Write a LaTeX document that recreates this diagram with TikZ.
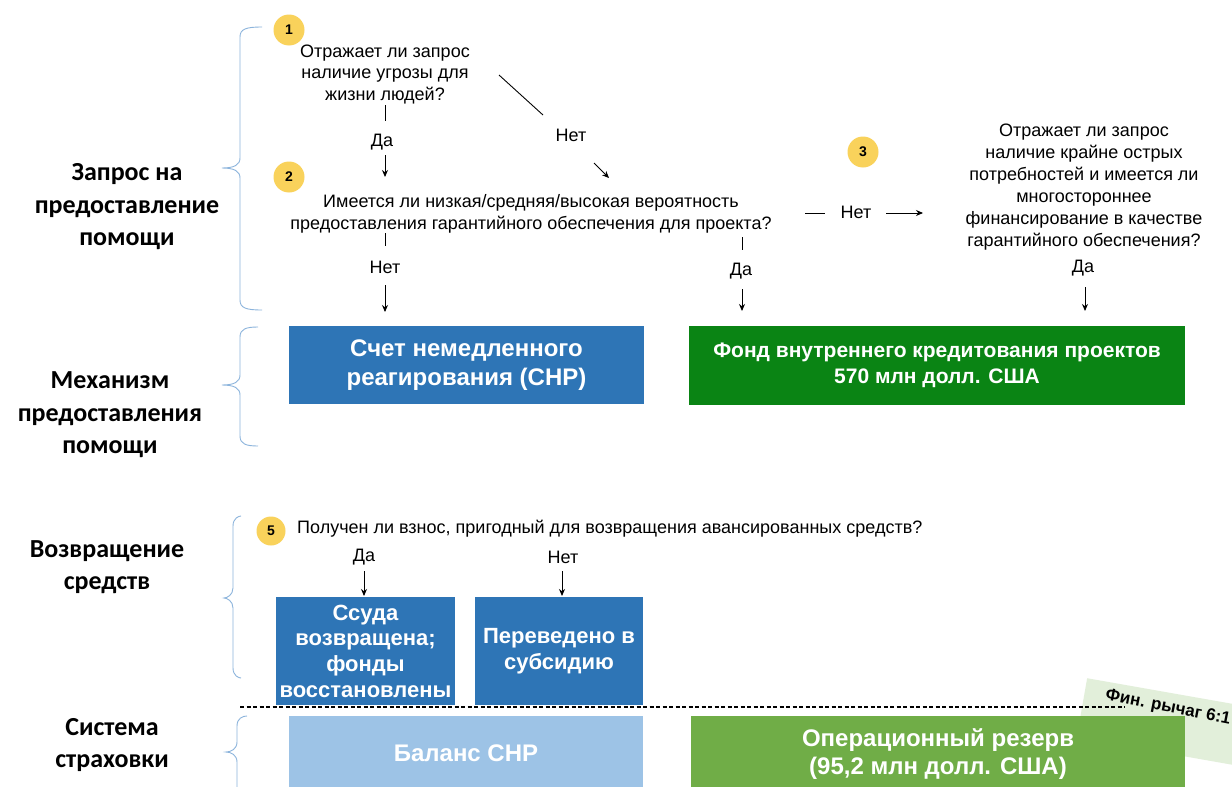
\documentclass[tikz,border=0pt]{standalone}
\usepackage{fontspec}
\setmainfont{Liberation Sans}
\newfontfamily\calfont{Carlito}
\usetikzlibrary{arrows.meta}
\definecolor{boxblue}{RGB}{46,117,182}
\definecolor{boxgreen}{RGB}{10,132,20}
\definecolor{lightblue}{RGB}{157,195,230}
\definecolor{lightgreen}{RGB}{112,173,71}
\definecolor{yel}{RGB}{249,210,91}
\definecolor{bracec}{RGB}{140,180,220}
\definecolor{palegreen}{RGB}{226,239,218}
\newcommand\Brace[6]{\draw[brace] (#1,#4) .. controls ({#2+6},#4) and (#2,{#4+2}) .. (#2,{#4+10}) -- (#2,{#5-10}) .. controls (#2,{#5-3}) and ({#2-6},#5) .. (#3,#5) .. controls ({#2-6},#5) and (#2,{#5+3}) .. (#2,{#5+10}) -- (#2,{#6-10}) .. controls (#2,{#6-2}) and ({#2+6},#6) .. (#1,#6);}
\begin{document}
\begin{tikzpicture}[x=1pt,y=-1pt,
 q/.style={font=\fontsize{18}{21.7}\selectfont, align=center, inner sep=0pt},
 yn/.style={font=\fontsize{18}{19}\selectfont, inner sep=0pt},
 sect/.style={font=\calfont\bfseries\fontsize{26}{32.5}\selectfont, align=center, inner sep=0pt},
 num/.style={circle, fill=yel, minimum size=31, inner sep=0pt, font=\bfseries\fontsize{14}{14}\selectfont},
 conn/.style={draw=black, line width=0.9pt},
 arr/.style={conn, -{Stealth[length=7pt,width=6pt]}},
 brace/.style={draw=bracec, line width=0.9pt},
 box/.style={fill=boxblue, text=white, font=\bfseries\fontsize{20}{27}\selectfont, align=center, inner sep=0pt},
]
\useasboundingbox (0,0) rectangle (1232,787);
\fill[white] (0,0) rectangle (1232,787);
% section labels
\node[sect] (s1) at (127,207) {Запрос на\\предоставление\\помощи};
\node[sect] (s2) at (110,415) {Механизм\\предоставления\\помощи};
\node[sect] (s3) at (107,567) {Возвращение\\средств};
\node[sect] (s4) at (112,745) {Система\\страховки};
% braces
\Brace{262}{240}{222}{27}{168}{310}
\Brace{258}{240}{222}{327}{385}{446}
\Brace{241}{233}{224}{516}{598}{678}
\Brace{247}{237}{226}{716}{752}{830}
% numbers
\node[num] (n1) at (289,30) {1};
\node[num] (n2) at (289,177) {2};
\node[num] (n3) at (863,152) {3};
\node[num, minimum size=29] (n5) at (271,531) {5};
% questions
\node[q] (q1) at (385,74.5) {Отражает ли запрос\\наличие угрозы для\\жизни людей?};
\node[q] (q2) at (531,214) {Имеется ли низкая/средняя/высокая вероятность\\предоставления гарантийного обеспечения для проекта?};
\node[q, font=\fontsize{18}{22}\selectfont] (q3) at (1084,187.5) {Отражает ли запрос\\наличие крайне острых\\потребностей и имеется ли\\многостороннее\\финансирование в качестве\\гарантийного обеспечения?};
\node[q, anchor=west] (q5) at (297,529) {Получен ли взнос, пригодный для возвращения авансированных средств?};
% yes/no labels
\node[yn] (da1) at (382,142) {Да};
\node[yn] (net1) at (571,135) {Нет};
\node[yn] (net2) at (385,267) {Нет};
\node[yn] (da2) at (741,271) {Да};
\node[yn] (net3) at (856,212) {Нет};
\node[yn] (da3) at (1083,268) {Да};
\node[yn] (da5) at (364,557) {Да};
\node[yn] (net5) at (563,557) {Нет};
% connector coordinates
\coordinate (t1a) at (385,105); \coordinate (t1b) at (385,121);
\coordinate (a1a) at (385,155); \coordinate (a1b) at (385,177);
\coordinate (t2a) at (499,75);  \coordinate (t2b) at (543,115);
\coordinate (a2a) at (594,163); \coordinate (a2b) at (609,178);
\coordinate (t3a) at (385,233); \coordinate (t3b) at (385,246);
\coordinate (a3a) at (385,285); \coordinate (a3b) at (385,312);
\coordinate (t4a) at (742,237); \coordinate (t4b) at (742,250);
\coordinate (a4a) at (742,289); \coordinate (a4b) at (742,311);
\coordinate (t5a) at (805,213); \coordinate (t5b) at (825,213);
\coordinate (a5a) at (886,213); \coordinate (a5b) at (923,213);
\coordinate (a6a) at (1085,287); \coordinate (a6b) at (1085,311);
\coordinate (a7a) at (364,571); \coordinate (a7b) at (364,596);
\coordinate (a8a) at (562,571); \coordinate (a8b) at (562,596);
\draw[conn] (t1a) -- (t1b); \draw[arr] (a1a) -- (a1b);
\draw[conn] (t2a) -- (t2b); \draw[arr] (a2a) -- (a2b);
\draw[conn] (t3a) -- (t3b); \draw[arr] (a3a) -- (a3b);
\draw[conn] (t4a) -- (t4b); \draw[arr] (a4a) -- (a4b);
\draw[conn] (t5a) -- (t5b); \draw[arr] (a5a) -- (a5b);
\draw[arr] (a6a) -- (a6b);
\draw[arr] (a7a) -- (a7b);
\draw[arr] (a8a) -- (a8b);
% boxes
\node[box, minimum width=355, minimum height=78, font=\bfseries\fontsize{24}{29}\selectfont] (cnr) at (466.5,365) {Счет немедленного\\реагирования (СНР)};
\node[box, fill=boxgreen, minimum width=496, minimum height=79, font=\bfseries\fontsize{21}{26}\selectfont] (fund) at (937,365.5) {Фонд внутреннего кредитования проектов\\570 млн долл. США};
\node[box, minimum width=179, minimum height=108, font=\bfseries\fontsize{22}{25.7}\selectfont] (ssuda) at (365.5,651) {Ссуда\\возвращена;\\фонды\\восстановлены};
\node[box, minimum width=168, minimum height=108, font=\bfseries\fontsize{22}{25.7}\selectfont] (perev) at (559,651) {Переведено в\\субсидию};
% leverage label background
\node[rotate=-10, fill=palegreen, anchor=north west, minimum width=210, minimum height=60, inner sep=0pt] (levbg) at (1087,678) {};
\node[box, fill=lightblue, minimum width=354, minimum height=74, font=\bfseries\fontsize{24}{28}\selectfont] (bal) at (466,753) {Баланс СНР};
\node[box, fill=lightgreen, minimum width=494, minimum height=76, font=\bfseries\fontsize{24}{28}\selectfont] (opres) at (938,754) {Операционный резерв\\(95,2 млн долл. США)};
\coordinate (dl1) at (240,707); \coordinate (dl2) at (1125,707);
\draw[black, line width=1.2pt, dash pattern=on 4pt off 2.5pt] (dl1) -- (dl2);
\node[rotate=-11, inner sep=0pt, font=\bfseries\fontsize{17}{17}\selectfont] (lev) at (1168,708) {Фин. рычаг 6:1};
\end{tikzpicture}
\end{document}
